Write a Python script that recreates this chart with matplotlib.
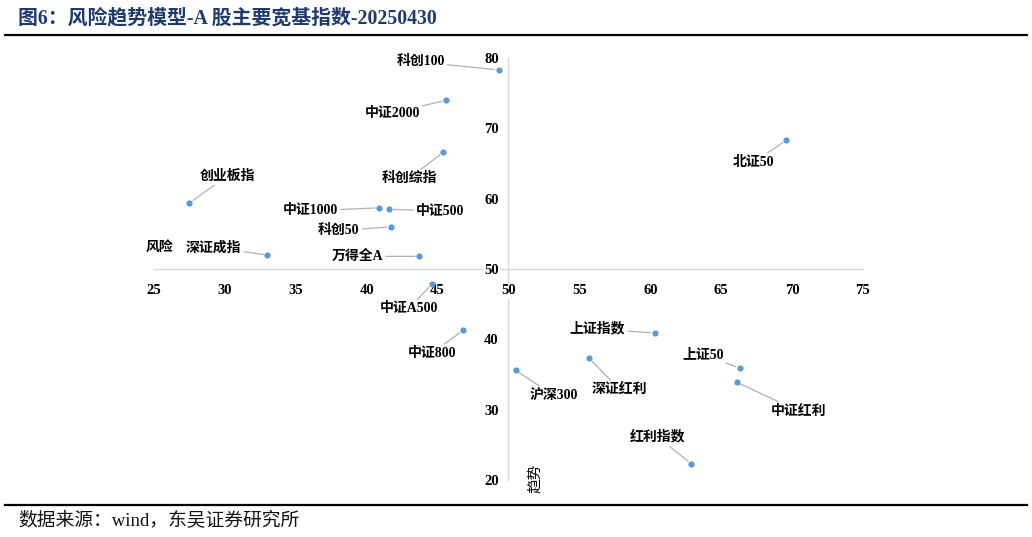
import matplotlib as mpl
mpl.use('Agg')
import matplotlib.pyplot as plt
from matplotlib.lines import Line2D

plt.rcParams['font.family'] = ['Liberation Serif', 'Noto Sans CJK SC', 'DejaVu Sans']

# data: (risk, trend) per index
names = ['科创100', '中证2000', '科创综指', '北证50', '创业板指', '中证1000', '中证500',
         '科创50', '深证成指', '万得全A', '中证A500', '中证800', '沪深300', '深证红利',
         '上证指数', '上证50', '中证红利', '红利指数']
risk = [49.3, 45.6, 45.4, 69.6, 27.5, 40.9, 41.6, 41.7, 33.0, 43.7, 44.6, 46.8,
        50.5, 55.7, 60.3, 66.3, 66.1, 62.9]
trend = [78.3, 74.0, 66.6, 68.3, 59.4, 58.7, 58.5, 56.0, 52.0, 51.8, 47.9, 41.3,
         35.6, 37.3, 40.9, 35.9, 33.9, 22.3]
x_ticks = [25, 30, 35, 40, 45, 50, 55, 60, 65, 70, 75]
y_ticks = [20, 30, 40, 50, 60, 70, 80]

# label offsets in pixels (dx, dy up-positive)
offsets = {
    '科创100': (-78, 8), '中证2000': (-54, -13), '科创综指': (-34, -26),
    '北证50': (-33, -22), '创业板指': (38, 27), '中证1000': (-69, -3),
    '中证500': (51, -2), '科创50': (-52, -4), '深证成指': (-54, 7),
    '万得全A': (-62, 0), '中证A500': (-23, -25), '中证800': (-31, -23),
    '沪深300': (38, -25), '深证红利': (30, -31), '上证指数': (-57, 4),
    '上证50': (-37, 14), '中证红利': (62, -29), '红利指数': (-34, 27),
}

fig = plt.figure(figsize=(10.32, 5.37), dpi=100)
ax = fig.add_axes([154/1032, 1-480/537, 709/1032, 422/537])

ax.scatter(risk, trend, s=20, color='#5b9bd5', zorder=3, linewidths=0)

for n, x, y in zip(names, risk, trend):
    dx, dy = offsets[n]
    ax.annotate(n, (x, y), xytext=(dx, dy), textcoords='offset pixels',
                ha='center', va='center', fontsize=10, fontweight='bold',
                arrowprops=dict(arrowstyle='-', color='#b0b0b0', lw=0.9,
                                shrinkA=0, shrinkB=3))

ax.set_xlim(25, 75)
ax.set_ylim(20, 80)
ax.set_xticks(x_ticks)
ax.set_yticks(y_ticks)
for s in ['top', 'right']:
    ax.spines[s].set_visible(False)
ax.spines['left'].set_position(('data', 50))
ax.spines['bottom'].set_position(('data', 50))
for s in ['left', 'bottom']:
    ax.spines[s].set_color('#d9d9d9')
    ax.spines[s].set_linewidth(1)
    ax.spines[s].set_zorder(1)
ax.tick_params(axis='x', length=0, pad=11, labelsize=10.5)
ax.tick_params(axis='y', length=0, pad=7, labelsize=10.5)
plt.setp(ax.get_xticklabels() + ax.get_yticklabels(), fontweight='bold',
         bbox=dict(facecolor='white', edgecolor='none', pad=1))

ax.text(25.4, 53.1, '风险', ha='center', va='center', fontsize=10, fontweight='bold')
ax.text(51.9, 20.3, '趋势', ha='center', va='center', fontsize=10.5, rotation=90)

fig.text(18/1032, 1-18/537, '图6：风险趋势模型-A 股主要宽基指数-20250430',
         ha='left', va='center', fontsize=14.3, fontweight='bold', color='#1f3b6e')
fig.text(18/1032, 1-521/537, '数据来源：wind，东吴证券研究所',
         ha='left', va='center', fontsize=13.5, color='#111111')

fig.add_artist(Line2D([5/1032, 1027/1032], [1-35/537, 1-35/537], color='black', lw=1.6))
fig.add_artist(Line2D([5/1032, 1027/1032], [1-505/537, 1-505/537], color='black', lw=1.6))

fig.savefig('out.png', dpi=100)
